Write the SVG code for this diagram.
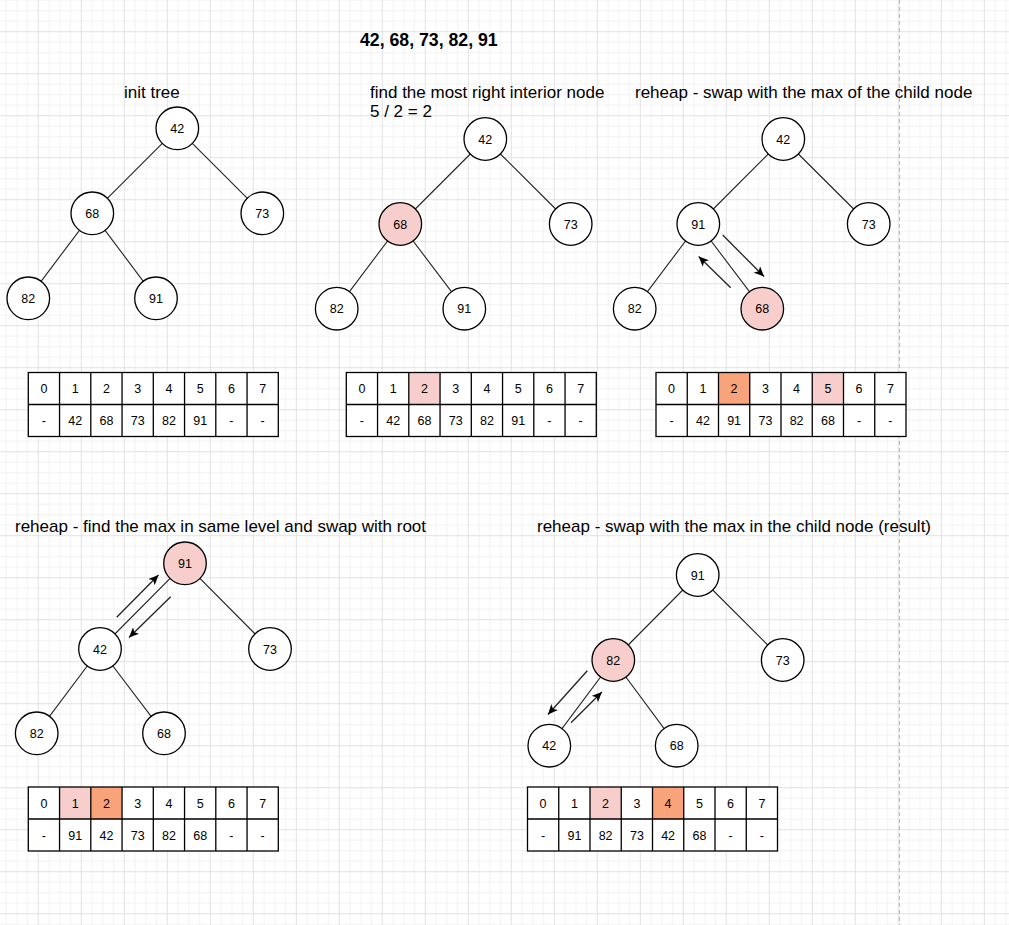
<svg xmlns="http://www.w3.org/2000/svg" width="1009" height="925" viewBox="0 0 1009 925">
<defs>
<pattern id="grid" patternUnits="userSpaceOnUse" x="37.8" y="31.2" width="43" height="42">
<path d="M11.25 0V42M22 0V42M32.75 0V42M0 11H43M0 21.5H43M0 32H43" stroke="#f2f2f2" stroke-width="1" fill="none"/>
<path d="M0.5 0V42M0 0.5H43" stroke="#e2e2e2" stroke-width="1" fill="none"/>
</pattern>
<marker id="arr" markerUnits="userSpaceOnUse" markerWidth="11" markerHeight="9" refX="10" refY="4.5" orient="auto">
<path d="M0,0 L10,4.5 L0,9 L2.5,4.5 Z" fill="#000"/>
</marker>
<g id="tablegrid">
<rect x="0" y="0" width="250" height="64" fill="none" stroke="#000" stroke-width="1.3"/>
<path d="M0 32H250M31.25 0V64M62.5 0V64M93.75 0V64M125 0V64M156.25 0V64M187.5 0V64M218.75 0V64" stroke="#000" stroke-width="1.3" fill="none"/>
</g>
</defs>
<style>
.node{stroke:#000;stroke-width:1.3;fill:#fff}
.hl{fill:#f8cecc}
.or{fill:#f9a37b}
.nt{font-family:"Liberation Sans",Arial,sans-serif;font-size:12.5px;text-anchor:middle;fill:#000}
.title{font-family:"Liberation Sans",Arial,sans-serif;font-size:17px;fill:#000}
.edge{stroke:#222;stroke-width:1.1;fill:none}
.arrow{stroke:#222;stroke-width:1.3;fill:none;marker-end:url(#arr)}
</style>
<rect width="1009" height="925" fill="#fff"/>
<rect width="1009" height="925" fill="url(#grid)"/>
<line x1="899.5" y1="0" x2="899.5" y2="925" stroke="#b8b8b8" stroke-width="1" stroke-dasharray="4 3"/>

<g id="texts">
<text class="title" x="360" y="46" style="font-weight:bold;font-size:17.7px">42, 68, 73, 82, 91</text>
<text class="title" x="124" y="98">init tree</text>
<text class="title" x="370" y="98">find the most right interior node</text>
<text class="title" x="370" y="117.3">5 / 2 = 2</text>
<text class="title" x="635" y="98">reheap - swap with the max of the child node</text>
<text class="title" x="15" y="532">reheap - find the max in same level and swap with root</text>
<text class="title" x="537" y="532">reheap - swap with the max in the child node (result)</text>
</g>

<g id="connectors">
<path class="edge" d="M177.3 128.3L92.3 213.3M177.3 128.3L262.3 213.3M92.3 213.3L28.3 298.3M92.3 213.3L156 298.3"/>
<path class="edge" d="M485.3 139L400.3 224M485.3 139L570.7 224M400.3 224L336.7 308.7M400.3 224L464.3 308.7"/>
<path class="edge" d="M783.3 139L698.3 224M783.3 139L868.7 224M698.3 224L634.7 308.7M698.3 224L762.3 308.7"/>
<path class="edge" d="M185 563.3L100 649M185 563.3L270 649M100 649L36.7 733.3M100 649L164 733.3"/>
<path class="edge" d="M697.7 575L613.3 660M697.7 575L782.7 660M613.3 660L549.3 745.7M613.3 660L676.7 745.7"/>
<line class="arrow" x1="722.7" y1="235" x2="764" y2="276.5"/>
<line class="arrow" x1="730.7" y1="287.7" x2="698.7" y2="256.5"/>
<line class="arrow" x1="116.7" y1="617.3" x2="158.5" y2="575"/>
<line class="arrow" x1="170.7" y1="596.7" x2="129" y2="637.5"/>
<line class="arrow" x1="587.3" y1="670.7" x2="548" y2="714.5"/>
<line class="arrow" x1="571" y1="722.7" x2="601.9" y2="692"/>
</g>

<g id="tree1">
<g id="t1-42"><circle class="node" cx="177.3" cy="128.3" r="21.3"/><text class="nt" x="177.3" y="132.8">42</text></g>
<g id="t1-68"><circle class="node" cx="92.3" cy="213.3" r="21.3"/><text class="nt" x="92.3" y="217.8">68</text></g>
<g id="t1-73"><circle class="node" cx="262.3" cy="213.3" r="21.3"/><text class="nt" x="262.3" y="217.8">73</text></g>
<g id="t1-82"><circle class="node" cx="28.3" cy="298.3" r="21.3"/><text class="nt" x="28.3" y="302.8">82</text></g>
<g id="t1-91"><circle class="node" cx="156" cy="298.3" r="21.3"/><text class="nt" x="156" y="302.8">91</text></g>
</g>
<g id="tree2">
<g id="t2-42"><circle class="node" cx="485.3" cy="139" r="21.3"/><text class="nt" x="485.3" y="143.5">42</text></g>
<g id="t2-68"><circle class="node hl" cx="400.3" cy="224" r="21.3"/><text class="nt" x="400.3" y="228.5">68</text></g>
<g id="t2-73"><circle class="node" cx="570.7" cy="224" r="21.3"/><text class="nt" x="570.7" y="228.5">73</text></g>
<g id="t2-82"><circle class="node" cx="336.7" cy="308.7" r="21.3"/><text class="nt" x="336.7" y="313.2">82</text></g>
<g id="t2-91"><circle class="node" cx="464.3" cy="308.7" r="21.3"/><text class="nt" x="464.3" y="313.2">91</text></g>
</g>
<g id="tree3">
<g id="t3-42"><circle class="node" cx="783.3" cy="139" r="21.3"/><text class="nt" x="783.3" y="143.5">42</text></g>
<g id="t3-91"><circle class="node" cx="698.3" cy="224" r="21.3"/><text class="nt" x="698.3" y="228.5">91</text></g>
<g id="t3-73"><circle class="node" cx="868.7" cy="224" r="21.3"/><text class="nt" x="868.7" y="228.5">73</text></g>
<g id="t3-82"><circle class="node" cx="634.7" cy="308.7" r="21.3"/><text class="nt" x="634.7" y="313.2">82</text></g>
<g id="t3-68"><circle class="node hl" cx="762.3" cy="308.7" r="21.3"/><text class="nt" x="762.3" y="313.2">68</text></g>
</g>
<g id="tree4">
<g id="t4-91"><circle class="node hl" cx="185" cy="563.3" r="21.3"/><text class="nt" x="185" y="567.8">91</text></g>
<g id="t4-42"><circle class="node" cx="100" cy="649" r="21.3"/><text class="nt" x="100" y="653.5">42</text></g>
<g id="t4-73"><circle class="node" cx="270" cy="649" r="21.3"/><text class="nt" x="270" y="653.5">73</text></g>
<g id="t4-82"><circle class="node" cx="36.7" cy="733.3" r="21.3"/><text class="nt" x="36.7" y="737.8">82</text></g>
<g id="t4-68"><circle class="node" cx="164" cy="733.3" r="21.3"/><text class="nt" x="164" y="737.8">68</text></g>
</g>
<g id="tree5">
<g id="t5-91"><circle class="node" cx="697.7" cy="575" r="21.3"/><text class="nt" x="697.7" y="579.5">91</text></g>
<g id="t5-82"><circle class="node hl" cx="613.3" cy="660" r="21.3"/><text class="nt" x="613.3" y="664.5">82</text></g>
<g id="t5-73"><circle class="node" cx="782.7" cy="660" r="21.3"/><text class="nt" x="782.7" y="664.5">73</text></g>
<g id="t5-42"><circle class="node" cx="549.3" cy="745.7" r="21.3"/><text class="nt" x="549.3" y="750.2">42</text></g>
<g id="t5-68"><circle class="node" cx="676.7" cy="745.7" r="21.3"/><text class="nt" x="676.7" y="750.2">68</text></g>
</g>

<g id="table1" transform="translate(28.3,372.5)">
<rect width="250" height="64" fill="#fff"/>
<use href="#tablegrid"/>
<g class="nt">
<text x="15.6" y="20.5">0</text><text x="46.9" y="20.5">1</text><text x="78.1" y="20.5">2</text><text x="109.4" y="20.5">3</text><text x="140.6" y="20.5">4</text><text x="171.9" y="20.5">5</text><text x="203.1" y="20.5">6</text><text x="234.4" y="20.5">7</text>
<text x="15.6" y="52.5">-</text><text x="46.9" y="52.5">42</text><text x="78.1" y="52.5">68</text><text x="109.4" y="52.5">73</text><text x="140.6" y="52.5">82</text><text x="171.9" y="52.5">91</text><text x="203.1" y="52.5">-</text><text x="234.4" y="52.5">-</text>
</g>
</g>
<g id="table2" transform="translate(346.3,372.5)">
<rect width="250" height="64" fill="#fff"/>
<rect class="hl" x="62.5" y="0" width="31.25" height="32"/>
<use href="#tablegrid"/>
<g class="nt">
<text x="15.6" y="20.5">0</text><text x="46.9" y="20.5">1</text><text x="78.1" y="20.5">2</text><text x="109.4" y="20.5">3</text><text x="140.6" y="20.5">4</text><text x="171.9" y="20.5">5</text><text x="203.1" y="20.5">6</text><text x="234.4" y="20.5">7</text>
<text x="15.6" y="52.5">-</text><text x="46.9" y="52.5">42</text><text x="78.1" y="52.5">68</text><text x="109.4" y="52.5">73</text><text x="140.6" y="52.5">82</text><text x="171.9" y="52.5">91</text><text x="203.1" y="52.5">-</text><text x="234.4" y="52.5">-</text>
</g>
</g>
<g id="table3" transform="translate(656,372.5)">
<rect width="250" height="64" fill="#fff"/>
<rect class="or" x="62.5" y="0" width="31.25" height="32"/>
<rect class="hl" x="156.25" y="0" width="31.25" height="32"/>
<use href="#tablegrid"/>
<g class="nt">
<text x="15.6" y="20.5">0</text><text x="46.9" y="20.5">1</text><text x="78.1" y="20.5">2</text><text x="109.4" y="20.5">3</text><text x="140.6" y="20.5">4</text><text x="171.9" y="20.5">5</text><text x="203.1" y="20.5">6</text><text x="234.4" y="20.5">7</text>
<text x="15.6" y="52.5">-</text><text x="46.9" y="52.5">42</text><text x="78.1" y="52.5">91</text><text x="109.4" y="52.5">73</text><text x="140.6" y="52.5">82</text><text x="171.9" y="52.5">68</text><text x="203.1" y="52.5">-</text><text x="234.4" y="52.5">-</text>
</g>
</g>
<g id="table4" transform="translate(28.3,787)">
<rect width="250" height="64" fill="#fff"/>
<rect class="hl" x="31.25" y="0" width="31.25" height="32"/>
<rect class="or" x="62.5" y="0" width="31.25" height="32"/>
<use href="#tablegrid"/>
<g class="nt">
<text x="15.6" y="20.5">0</text><text x="46.9" y="20.5">1</text><text x="78.1" y="20.5">2</text><text x="109.4" y="20.5">3</text><text x="140.6" y="20.5">4</text><text x="171.9" y="20.5">5</text><text x="203.1" y="20.5">6</text><text x="234.4" y="20.5">7</text>
<text x="15.6" y="52.5">-</text><text x="46.9" y="52.5">91</text><text x="78.1" y="52.5">42</text><text x="109.4" y="52.5">73</text><text x="140.6" y="52.5">82</text><text x="171.9" y="52.5">68</text><text x="203.1" y="52.5">-</text><text x="234.4" y="52.5">-</text>
</g>
</g>
<g id="table5" transform="translate(527.5,787)">
<rect width="250" height="64" fill="#fff"/>
<rect class="hl" x="62.5" y="0" width="31.25" height="32"/>
<rect class="or" x="125" y="0" width="31.25" height="32"/>
<use href="#tablegrid"/>
<g class="nt">
<text x="15.6" y="20.5">0</text><text x="46.9" y="20.5">1</text><text x="78.1" y="20.5">2</text><text x="109.4" y="20.5">3</text><text x="140.6" y="20.5">4</text><text x="171.9" y="20.5">5</text><text x="203.1" y="20.5">6</text><text x="234.4" y="20.5">7</text>
<text x="15.6" y="52.5">-</text><text x="46.9" y="52.5">91</text><text x="78.1" y="52.5">82</text><text x="109.4" y="52.5">73</text><text x="140.6" y="52.5">42</text><text x="171.9" y="52.5">68</text><text x="203.1" y="52.5">-</text><text x="234.4" y="52.5">-</text>
</g>
</g>
</svg>
